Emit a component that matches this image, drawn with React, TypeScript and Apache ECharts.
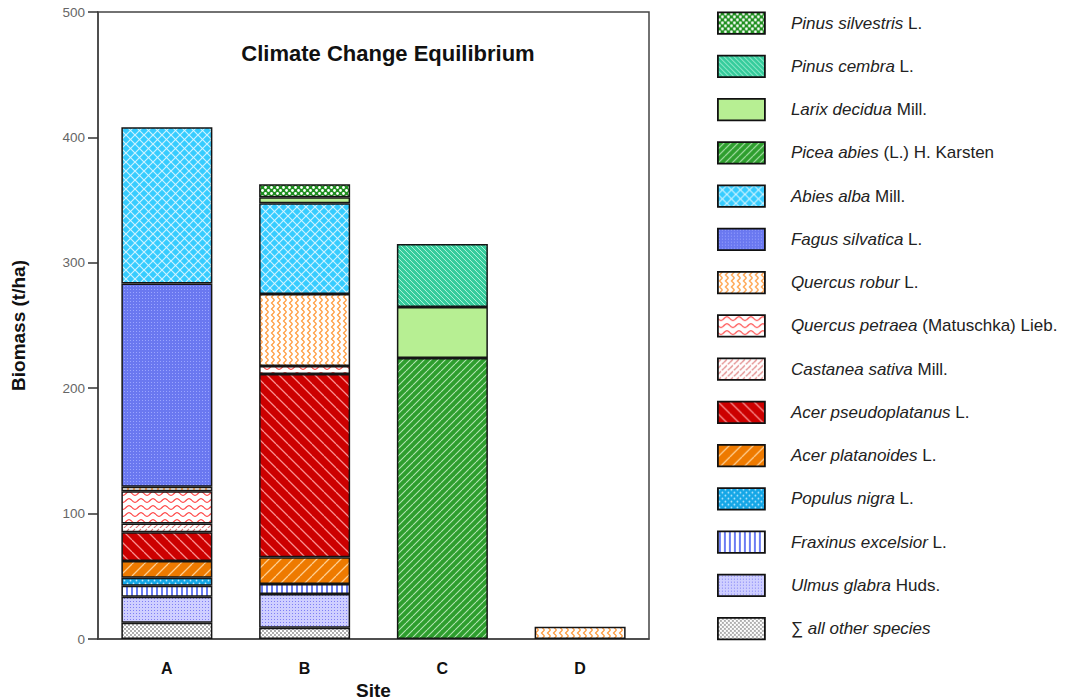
import React, { useEffect, useRef } from 'react';
import * as echarts from 'echarts';

const FONT = '"Liberation Sans", Arial, Helvetica, sans-serif';

const sites = ['A', 'B', 'C', 'D'];

// species in stacking order (bottom -> top)
const speciesNames = [
  '∑ all other species',
  'Ulmus glabra Huds.',
  'Fraxinus excelsior L.',
  'Populus nigra L.',
  'Acer platanoides L.',
  'Acer pseudoplatanus L.',
  'Castanea sativa Mill.',
  'Quercus petraea (Matuschka) Lieb.',
  'Quercus robur L.',
  'Fagus silvatica L.',
  'Abies alba Mill.',
  'Picea abies (L.) H. Karsten',
  'Larix decidua Mill.',
  'Pinus cembra L.',
  'Pinus silvestris L.',
];

const speciesLabels = [
  '{n|∑ }{i|all other species}',
  '{i|Ulmus glabra} {n|Huds.}',
  '{i|Fraxinus excelsior} {n|L.}',
  '{i|Populus nigra} {n|L.}',
  '{i|Acer platanoides} {n|L.}',
  '{i|Acer pseudoplatanus} {n|L.}',
  '{i|Castanea sativa} {n|Mill.}',
  '{i|Quercus petraea} {n|(Matuschka) Lieb.}',
  '{i|Quercus robur} {n|L.}',
  '{i|Fagus silvatica} {n|L.}',
  '{i|Abies alba} {n|Mill.}',
  '{i|Picea abies} {n|(L.) H. Karsten}',
  '{i|Larix decidua} {n|Mill.}',
  '{i|Pinus cembra} {n|L.}',
  '{i|Pinus silvestris} {n|L.}',
];

// biomass (t/ha) per site A, B, C, D
const otherSpecies = [13, 9, 0, 0];
const ulmusGlabra = [20.7, 26.9, 0, 0];
const fraxinusExcelsior = [8.8, 8, 0, 0];
const populusNigra = [6.4, 0, 0, 0];
const acerPlatanoides = [13.3, 21.2, 0, 0];
const acerPseudoplatanus = [22.9, 146.2, 0, 0];
const castaneaSativa = [7.1, 0, 0, 0];
const quercusPetraea = [25.6, 6.4, 0, 0];
const quercusRobur = [3.7, 57.4, 0, 9.8];
const fagusSilvatica = [162, 0, 0, 0];
const abiesAlba = [124.5, 72.3, 0, 0];
const piceaAbies = [0, 0, 224, 0];
const larixDecidua = [0, 4.8, 40.8, 0];
const pinusCembra = [0, 0, 50.2, 0];
const pinusSilvestris = [0, 10.4, 0, 0];

const speciesValues = [
  otherSpecies, ulmusGlabra, fraxinusExcelsior, populusNigra, acerPlatanoides,
  acerPseudoplatanus, castaneaSativa, quercusPetraea, quercusRobur, fagusSilvatica,
  abiesAlba, piceaAbies, larixDecidua, pinusCembra, pinusSilvestris,
];

type Ctx = CanvasRenderingContext2D;

function tile(w: number, h: number, bg: string, draw: (ctx: Ctx, w: number, h: number) => void) {
  const c = document.createElement('canvas');
  c.width = w;
  c.height = h;
  const ctx = c.getContext('2d') as Ctx;
  ctx.fillStyle = bg;
  ctx.fillRect(0, 0, w, h);
  draw(ctx, w, h);
  return { image: c, repeat: 'repeat', imageWidth: w, imageHeight: h } as any;
}

function diag(ctx: Ctx, s: number, dir: '/' | '\\', color: string, lw: number) {
  ctx.strokeStyle = color;
  ctx.lineWidth = lw;
  ctx.beginPath();
  for (let k = -1; k <= 1; k++) {
    if (dir === '/') {
      ctx.moveTo(k * s, s);
      ctx.lineTo(k * s + s, 0);
    } else {
      ctx.moveTo(k * s, 0);
      ctx.lineTo(k * s + s, s);
    }
  }
  ctx.stroke();
}

function dot(ctx: Ctx, x: number, y: number, r: number, color: string) {
  ctx.fillStyle = color;
  ctx.beginPath();
  ctx.arc(x, y, r, 0, Math.PI * 2);
  ctx.fill();
}

function makePatterns() {
  return [
    // all other species
    tile(4, 4, '#ffffff', (ctx) => {
      dot(ctx, 1, 1, 0.9, '#8a8a8a');
      dot(ctx, 3, 3, 0.9, '#8a8a8a');
    }),
    // Ulmus
    tile(3, 3, '#cfcfff', (ctx) => {
      ctx.fillStyle = '#7f7ff5';
      ctx.fillRect(1, 1, 1, 1);
    }),
    // Fraxinus
    tile(5, 5, '#ffffff', (ctx) => {
      ctx.fillStyle = '#6b7cf2';
      ctx.fillRect(1, 0, 2, 5);
    }),
    // Populus
    tile(6, 6, '#14a6e6', (ctx) => {
      dot(ctx, 1.5, 1.5, 0.9, '#bfeaff');
      dot(ctx, 4.5, 4.5, 0.9, '#bfeaff');
    }),
    // Acer platanoides
    tile(12, 12, '#ee7a00', (ctx, w) => diag(ctx, w, '/', 'rgba(255,215,160,0.9)', 1.3)),
    // Acer pseudoplatanus
    tile(12, 12, '#cc0000', (ctx, w) => diag(ctx, w, '\\', 'rgba(255,160,160,0.9)', 1.3)),
    // Castanea
    tile(6, 6, '#ffffff', (ctx) => {
      ctx.strokeStyle = '#dd7777';
      ctx.lineWidth = 1.1;
      ctx.beginPath();
      ctx.moveTo(0, 4);
      ctx.lineTo(3, 1);
      ctx.moveTo(3, 7);
      ctx.lineTo(6, 4);
      ctx.stroke();
    }),
    // Quercus petraea (horizontal waves)
    tile(12, 7, '#ffffff', (ctx, w, h) => {
      ctx.strokeStyle = '#ff4040';
      ctx.lineWidth = 1.2;
      ctx.beginPath();
      for (let x = 0; x <= w; x += 0.5) {
        const y = h / 2 + 1.8 * Math.sin((2 * Math.PI * x) / w);
        if (x === 0) ctx.moveTo(x, y);
        else ctx.lineTo(x, y);
      }
      ctx.stroke();
    }),
    // Quercus robur (vertical zigzag)
    tile(6, 6, '#ffffff', (ctx) => {
      ctx.strokeStyle = '#ff9a3c';
      ctx.lineWidth = 1.2;
      ctx.beginPath();
      ctx.moveTo(4.5, 0);
      ctx.lineTo(1.5, 3);
      ctx.lineTo(4.5, 6);
      ctx.stroke();
    }),
    // Fagus
    tile(3, 3, '#6a78f0', (ctx) => {
      ctx.fillStyle = '#9aa5ff';
      ctx.fillRect(1, 1, 1, 1);
    }),
    // Abies alba (diamond grid)
    tile(9, 9, '#36ccff', (ctx, w) => {
      diag(ctx, w, '/', 'rgba(220,245,255,0.9)', 1.2);
      diag(ctx, w, '\\', 'rgba(220,245,255,0.9)', 1.2);
    }),
    // Picea abies
    tile(7, 7, '#2e9e2e', (ctx, w) => diag(ctx, w, '/', 'rgba(200,240,200,0.85)', 1.1)),
    // Larix
    tile(4, 4, '#b7ef93', () => {}),
    // Pinus cembra
    tile(5, 5, '#36cc9c', (ctx, w) => diag(ctx, w, '\\', 'rgba(210,255,235,0.75)', 1)),
    // Pinus silvestris
    tile(6, 6, '#1f8f1f', (ctx) => {
      dot(ctx, 1.5, 1.5, 1.4, '#ffffff');
      dot(ctx, 4.5, 4.5, 1.4, '#ffffff');
    }),
  ];
}

export default function App() {
  const ref = useRef<HTMLDivElement>(null);

  useEffect(() => {
    document.body.style.margin = '0';
    if (!ref.current) return;
    const chart = echarts.init(ref.current, undefined, { renderer: 'svg' });
    const patterns = makePatterns();

    const labelMap: Record<string, string> = {};
    speciesNames.forEach((n, i) => (labelMap[n] = speciesLabels[i]));

    const series = speciesNames.map((name, i) => ({
      name,
      type: 'bar',
      stack: 'total',
      barWidth: 91,
      data: speciesValues[i].map((v) => (v === 0 ? '-' : v)),
      itemStyle: {
        color: patterns[i],
        borderColor: '#151515',
        borderWidth: 1.5,
      },
      emphasis: { disabled: true },
    }));

    chart.setOption({
      animation: false,
      textStyle: { fontFamily: FONT },
      grid: {
        left: 98,
        top: 12,
        width: 551,
        height: 627,
        show: true,
        outerBoundsMode: 'none',
        containLabel: false,
        borderColor: '#444',
        borderWidth: 1.5,
        backgroundColor: 'transparent',
      },
      graphic: [
        {
          type: 'text',
          x: 388,
          y: 53,
          style: {
            text: 'Climate Change Equilibrium',
            font: `bold 22px ${FONT}`,
            fill: '#111',
            align: 'center',
            verticalAlign: 'middle',
          },
        },
      ],
      legend: {
        orient: 'vertical',
        left: 717,
        top: 11.5,
        padding: 0,
        icon: 'rect',
        itemWidth: 47,
        itemHeight: 21.5,
        itemGap: 19.95,
        selectedMode: false,
        data: [...speciesNames].reverse(),
        formatter: (name: string) => labelMap[name] || name,
        itemStyle: { borderColor: '#111', borderWidth: 1.8 },
        textStyle: {
          fontFamily: FONT,
          fontSize: 17,
          lineHeight: 20,
          color: '#222',
          padding: [0, 0, 0, 21],
          rich: {
            i: { fontFamily: FONT, fontSize: 17, lineHeight: 20, fontStyle: 'italic', color: '#222' },
            n: { fontFamily: FONT, fontSize: 17, lineHeight: 20, color: '#222' },
          },
        },
      },
      xAxis: {
        type: 'category',
        data: sites,
        name: 'Site',
        nameLocation: 'middle',
        nameGap: 40,
        nameTextStyle: { fontFamily: FONT, fontSize: 19, fontWeight: 'bold', color: '#111' },
        axisLine: { lineStyle: { color: '#444', width: 1.5 } },
        axisTick: { alignWithLabel: true, length: 10, lineStyle: { color: '#333', width: 1.5 } },
        axisLabel: { margin: 21, fontFamily: FONT, fontSize: 16, fontWeight: 'bold', color: '#111' },
        splitLine: { show: false },
      },
      yAxis: {
        type: 'value',
        min: 0,
        max: 500,
        interval: 100,
        name: 'Biomass (t/ha)',
        nameLocation: 'middle',
        nameGap: 70,
        nameTextStyle: { fontFamily: FONT, fontSize: 19, fontWeight: 'bold', color: '#111' },
        axisLine: { show: true, lineStyle: { color: '#444', width: 1.5 } },
        axisTick: { show: true, length: 10, lineStyle: { color: '#333', width: 1.5 } },
        axisLabel: { margin: 13, fontFamily: FONT, fontSize: 13.5, color: '#666' },
        splitLine: { show: false },
      },
      series,
    });

    return () => chart.dispose();
  }, []);

  return <div ref={ref} style={{ width: 1073, height: 700 }} />;
}
